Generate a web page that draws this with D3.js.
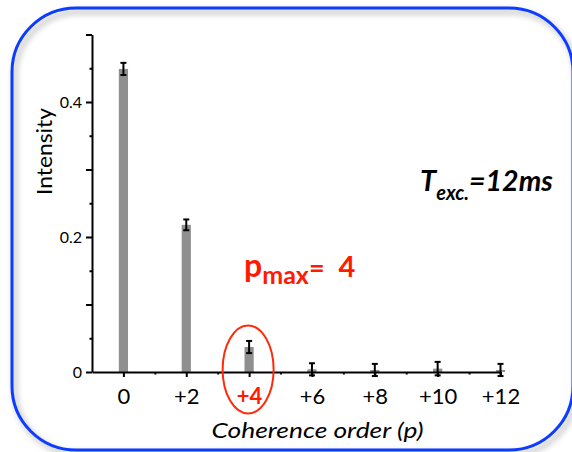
<!DOCTYPE html>
<html>
<head>
<meta charset="utf-8">
<script src="https://cdn.jsdelivr.net/npm/d3@7"></script>
<style>
  html, body { margin: 0; padding: 0; background: #fff; }
  svg { display: block; }
  text { font-family: Lato, "Open Sans", sans-serif; }
</style>
</head>
<body>
<svg id="chart" width="572" height="452"></svg>
<script>
// Coherence order distribution with error bars
const orders = [0, 2, 4, 6, 8, 10, 12];
const orderLabels = ["0", "+2", "+4", "+6", "+8", "+10", "+12"];
const intensity = [0.449, 0.218, 0.037, 0.004, 0.003, 0.005, 0.003];
const errors = [0.009, 0.008, 0.009, 0.009, 0.009, 0.010, 0.009];
const yMajorTicks = [0, 0.1, 0.2, 0.3, 0.4, 0.5];
const yMinorTicks = [0.05, 0.15, 0.25, 0.35, 0.45];
const yLabelled = [0, 0.2, 0.4];
const yLabelText = ["0", "0.2", "0.4"];
const xMinorTicks = [1, 3, 5, 7, 9, 11];
const highlightOrder = 4;

const svg = d3.select("#chart");

// framed panel with soft shadow
const defs = svg.append("defs");
const f = defs.append("filter").attr("id", "panelShadow")
  .attr("x", "-10%").attr("y", "-10%").attr("width", "120%").attr("height", "120%");
f.append("feGaussianBlur").attr("in", "SourceAlpha").attr("stdDeviation", 3).attr("result", "b");
f.append("feOffset").attr("in", "b").attr("dx", 3).attr("dy", 4).attr("result", "o");
f.append("feComponentTransfer").attr("in", "o").attr("result", "s")
  .append("feFuncA").attr("type", "linear").attr("slope", 0.35);
const fm = f.append("feMerge");
fm.append("feMergeNode").attr("in", "s");
fm.append("feMergeNode").attr("in", "SourceGraphic");

svg.append("rect")
  .attr("x", 12).attr("y", 8).attr("width", 561).attr("height", 442)
  .attr("rx", 64).attr("ry", 64)
  .attr("fill", "none").attr("stroke", "#0b3bff").attr("stroke-width", 3)
  .attr("filter", "url(#panelShadow)");

const x = d3.scaleLinear().domain([-1, 12]).range([92, 500.5]);
const y = d3.scaleLinear().domain([0, 0.5]).range([372, 34.5]);

// bars
svg.append("g").selectAll("rect")
  .data(orders)
  .join("rect")
  .attr("x", (d) => x(d) - 4.6)
  .attr("width", 9.2)
  .attr("y", (d, i) => y(intensity[i]))
  .attr("height", (d, i) => y(0) - y(intensity[i]))
  .attr("fill", "#8f8f8f");

function styleAxis(g) {
  g.selectAll("path.domain").attr("stroke", "#000").attr("stroke-width", 2);
  g.selectAll(".tick line").attr("stroke", "#000").attr("stroke-width", 2);
}

function yFormat(d) {
  const k = yLabelled.findIndex((v) => Math.abs(v - d) < 1e-9);
  return k >= 0 ? yLabelText[k] : "";
}

// y axis
const gy = svg.append("g").attr("transform", `translate(${x(-1)},0)`);
gy.call(d3.axisLeft(y).tickValues(yMajorTicks).tickSize(6).tickSizeOuter(0).tickPadding(4)
  .tickFormat(yFormat));
gy.selectAll("text").attr("font-size", 16).attr("fill", "#000");
styleAxis(gy);
const gym = svg.append("g").attr("transform", `translate(${x(-1)},0)`);
gym.call(d3.axisLeft(y).tickValues(yMinorTicks).tickSize(2.5).tickSizeOuter(0).tickFormat(""));
gym.select("path.domain").remove();
styleAxis(gym);

// x axis
const gx = svg.append("g").attr("transform", `translate(0,${y(0)})`);
gx.call(d3.axisBottom(x).tickValues(orders).tickSize(5).tickSizeOuter(0).tickPadding(11)
  .tickFormat((d, i) => orderLabels[i]));
gx.selectAll("text").attr("font-size", 22).attr("fill", "#000");
gx.selectAll(".tick").filter((d) => d === highlightOrder).select("text")
  .attr("fill", "#ff1a00").attr("font-weight", "bold");
styleAxis(gx);
const gxm = svg.append("g").attr("transform", `translate(0,${y(0)})`);
gxm.call(d3.axisBottom(x).tickValues(xMinorTicks).tickSize(2.5).tickSizeOuter(0).tickFormat(""));
gxm.select("path.domain").remove();
styleAxis(gxm);

// error bars
const eb = svg.append("g").attr("stroke", "#000").attr("stroke-width", 2);
orders.forEach((p, i) => {
  const cx = x(p), lo = y(intensity[i] - errors[i]), hi = y(intensity[i] + errors[i]);
  eb.append("line").attr("x1", cx).attr("x2", cx).attr("y1", lo).attr("y2", hi);
  eb.append("line").attr("x1", cx - 3).attr("x2", cx + 3).attr("y1", lo).attr("y2", lo);
  eb.append("line").attr("x1", cx - 3).attr("x2", cx + 3).attr("y1", hi).attr("y2", hi);
});

// highlight ellipse around the maximum order
svg.append("ellipse")
  .attr("cx", x(highlightOrder) - 1).attr("cy", 369.5)
  .attr("rx", 25.5).attr("ry", 44)
  .attr("fill", "none").attr("stroke", "#ff2a0a").attr("stroke-width", 2);

// axis titles
svg.append("text")
  .attr("transform", "translate(52,151.5) rotate(-90)")
  .attr("text-anchor", "middle")
  .attr("font-size", 21)
  .attr("textLength", 87).attr("lengthAdjust", "spacingAndGlyphs")
  .text("Intensity");

svg.append("text")
  .attr("x", 317.5).attr("y", 438)
  .attr("text-anchor", "middle")
  .attr("font-size", 22).attr("font-style", "italic")
  .attr("textLength", 212).attr("lengthAdjust", "spacingAndGlyphs")
  .text("Coherence order (p)");

// annotations
const tAnn = svg.append("text").attr("x", 420).attr("y", 190.5)
  .attr("font-weight", "bold").attr("font-style", "italic").attr("fill", "#000");
tAnn.append("tspan").attr("font-size", 29).text("T");
tAnn.append("tspan").attr("font-size", 20).attr("dy", 9).text("exc.");
tAnn.append("tspan").attr("font-size", 28.5).attr("dy", -9).text("=12ms");

const pAnn = svg.append("text").attr("x", 244).attr("y", 277)
  .attr("font-weight", "bold").attr("fill", "#ff1a00");
pAnn.append("tspan").attr("font-size", 32).text("p");
pAnn.append("tspan").attr("font-size", 25).attr("dy", 7).text("max");
pAnn.append("tspan").attr("font-size", 27).attr("dy", -7).text("=");
pAnn.append("tspan").attr("font-size", 29).attr("dx", 14).text("4");
</script>
</body>
</html>
